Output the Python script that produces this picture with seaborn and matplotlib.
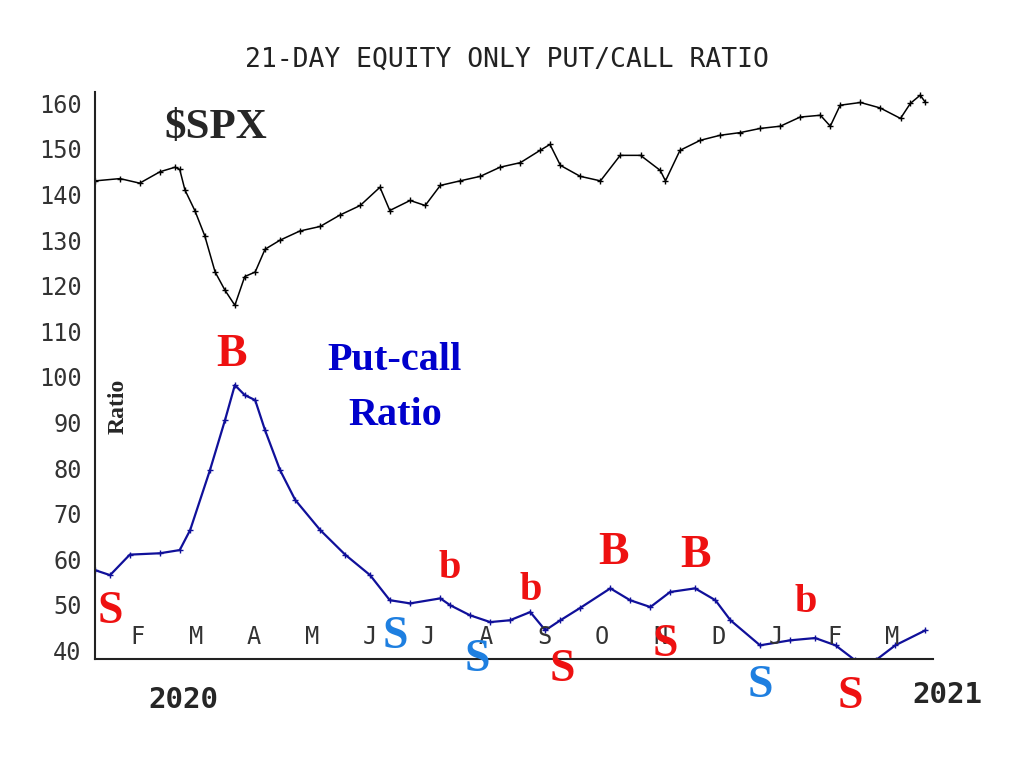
import numpy as np
import pandas as pd
import matplotlib
matplotlib.use("Agg")
import matplotlib.pyplot as plt
import seaborn as sns

## data (x in months since 1 Jan 2020, y on the chart's scale)
spx_x = [0.26, 0.69, 1.03, 1.38, 1.64, 1.72, 1.81, 1.98, 2.15, 2.33, 2.50, 2.67, 2.84,
         3.02, 3.19, 3.45, 3.79, 4.14, 4.48, 4.83, 5.17, 5.34, 5.69, 5.95, 6.21, 6.55,
         6.90, 7.24, 7.59, 7.93, 8.10, 8.28, 8.62, 8.97, 9.31, 9.66, 10.00, 10.09, 10.34,
         10.69, 11.03, 11.38, 11.72, 12.07, 12.41, 12.76, 12.93, 13.10, 13.45, 13.79,
         14.14, 14.31, 14.48, 14.57]
spx_y = [143.0, 143.5, 142.5, 145.0, 146.0, 145.5, 141.0, 136.5, 131.0, 123.0, 119.0,
         115.7, 122.0, 123.0, 128.0, 130.0, 132.0, 133.0, 135.5, 137.6, 141.6, 136.5,
         138.7, 137.6, 142.0, 143.0, 144.0, 146.0, 147.0, 149.7, 151.0, 146.4, 144.0,
         143.0, 148.6, 148.6, 145.3, 143.0, 149.7, 151.9, 153.0, 153.6, 154.5, 155.0,
         157.0, 157.4, 155.0, 159.6, 160.2, 159.0, 156.7, 160.0, 161.8, 160.2]

pc_x = [0.26, 0.52, 0.86, 1.38, 1.72, 1.90, 2.24, 2.50, 2.67, 2.84, 3.02, 3.19, 3.45,
        3.71, 4.14, 4.57, 5.00, 5.34, 5.69, 6.21, 6.38, 6.72, 7.07, 7.41, 7.76, 8.02,
        8.28, 8.62, 9.14, 9.48, 9.83, 10.17, 10.60, 10.95, 11.21, 11.72, 12.24, 12.67,
        13.02, 13.36, 13.71, 14.05, 14.57]
pc_y = [57.6, 56.5, 61.0, 61.3, 62.0, 66.4, 79.5, 90.5, 98.2, 96.0, 94.9, 88.3, 79.5,
        73.0, 66.4, 61.0, 56.5, 51.0, 50.3, 51.4, 49.9, 47.7, 46.2, 46.6, 48.4, 44.4,
        46.6, 49.3, 53.6, 51.0, 49.5, 52.8, 53.6, 51.0, 46.6, 41.1, 42.2, 42.7, 41.1,
        37.8, 37.8, 41.1, 44.4]

months = ["F", "M", "A", "M", "J", "J", "A", "S", "O", "N", "D", "J", "F", "M"]
month_pos = list(range(1, 15))

sig_text = ["B", "B", "B", "b", "b", "b", "S", "S", "S", "S", "S", "S", "S"]
sig_x = [2.62, 9.19, 10.6, 6.38, 7.76, 12.5, 0.52, 8.31, 10.09, 13.28, 5.43, 6.84, 11.72]
sig_y = [104.7, 61.3, 60.7, 58.0, 53.2, 50.6, 48.4, 35.7, 41.1, 29.7, 42.9, 37.8, 32.1]
sig_col = ["r"] * 10 + ["b"] * 3

sns.set_style("white")
plt.rcParams['font.family'] = ['DejaVu Sans']
fig = plt.figure(figsize=(10.22, 7.66), dpi=100)
ax = fig.add_axes([95 / 1022, 1 - 659 / 766, 838 / 1022, 567 / 766])

sns.lineplot(x=spx_x, y=spx_y, ax=ax, color="black", lw=1.1, marker="+",
             markersize=5, markeredgewidth=1.0, markeredgecolor="black")
sns.lineplot(x=pc_x, y=pc_y, ax=ax, color="#10109a", lw=1.6, marker="+",
             markersize=4, markeredgewidth=1.0, markeredgecolor="#10109a")

ax.set_xlim(0.26, 14.7)
ax.set_ylim(38.1, 162.5)
ax.set_yticks(range(40, 161, 10))
ax.set_yticklabels([str(v) for v in range(40, 161, 10)], family="DejaVu Sans Mono",
                   fontsize=17, color="#333333")
ax.set_xticks(month_pos)
ax.set_xticklabels([])
ax.tick_params(axis="both", direction="out", length=6, width=1.2, colors="#222222",
               labelcolor="#333333")
ax.tick_params(axis="x", direction="inout", length=10)
for s in ["top", "right"]:
    ax.spines[s].set_visible(False)
for s in ["left", "bottom"]:
    ax.spines[s].set_linewidth(1.5)
    ax.spines[s].set_color("#222222")

for m, p in zip(months, month_pos):
    ax.text(p, 43.0, m, ha="center", va="center", family="DejaVu Sans Mono",
            fontsize=17, color="#333333")

serif = "Liberation Serif"
ax.text(1.45, 154.5, "$SPX", family=serif, fontweight="bold", fontsize=31, va="center")
ax.text(5.43, 103.5, "Put-call", family=serif, fontweight="bold", fontsize=29,
        color="#0000cc", ha="center", va="center")
ax.text(5.43, 91.5, "Ratio", family=serif, fontweight="bold", fontsize=29,
        color="#0000cc", ha="center", va="center")
ax.text(0.65, 93.5, "Ratio", family=serif, fontweight="bold", fontsize=17,
        rotation=90, ha="center", va="center")

colmap = {"r": "#ee1111", "b": "#1e7fe0"}
for t, x, y, c in zip(sig_text, sig_x, sig_y, sig_col):
    ax.text(x, y, t, family=serif, fontweight="bold", color=colmap[c],
            fontsize=33 if t != "b" else 29, ha="center", va="center", clip_on=False)

fig.text(507 / 1022, 1 - 60 / 766, "21-DAY EQUITY ONLY PUT/CALL RATIO",
         family="DejaVu Sans Mono", fontsize=19, ha="center", va="center", color="#222222")
fig.text(183 / 1022, 1 - 700 / 766, "2020", family="DejaVu Sans Mono", fontweight="bold",
         fontsize=21, ha="center", va="center")
fig.text(947 / 1022, 1 - 695 / 766, "2021", family="DejaVu Sans Mono", fontweight="bold",
         fontsize=21, ha="center", va="center")

fig.savefig("out.png", dpi=100)
